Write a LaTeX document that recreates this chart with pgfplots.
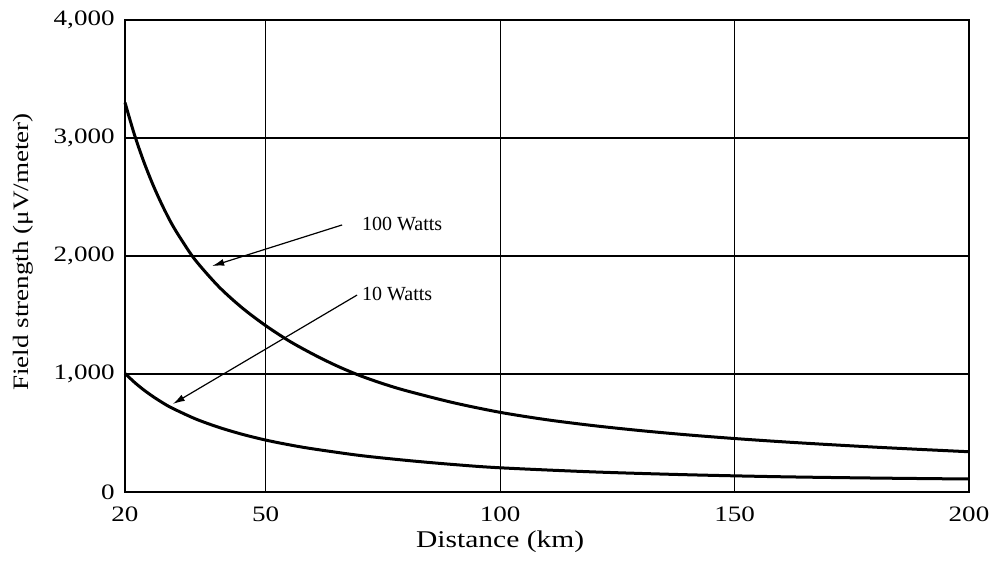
\documentclass[border=0pt]{standalone}
\usepackage{fontspec}
\setmainfont{Liberation Serif}
\usepackage{graphicx}
\usepackage{pgfplots}
\pgfplotsset{compat=1.18}
\usetikzlibrary{arrows.meta}
\newcommand{\wide}[1]{\scalebox{1.23}[1]{#1}}
\begin{document}
\begin{tikzpicture}
\begin{axis}[
  scale only axis, width=422pt, height=236pt,
  xmin=20, xmax=200, ymin=0, ymax=4000,
  xtick={20,50,100,150,200},
  xticklabels={\wide{20},\wide{50},\wide{100},\wide{150},\wide{200}},
  ytick={0,1000,2000,3000,4000},
  yticklabels={\wide{0},{\wide{1,000}},{\wide{2,000}},{\wide{3,000}},{\wide{4,000}}},
  tick style={draw=none},
  grid=major, grid style={black, line width=0.6pt},
  axis line style={black, line width=0.8pt},
  ticklabel style={font=\fontsize{11}{13}\selectfont, inner sep=0pt},
  xticklabel style={yshift=-7pt},
  yticklabel style={xshift=-5pt},
  clip=false,
]
\addplot[black, line width=1.5pt, smooth] coordinates {
(20,3300) (22,3030) (24,2800) (26,2600) (28,2425) (30,2270) (32,2140) (35,1965)
(40,1740) (45,1560) (50,1410) (55,1280) (60,1170) (65,1072) (70,988) (75,918)
(80,858) (90,757) (100,675) (110,612) (120,562) (130,520) (140,484) (150,453)
(160,426) (170,402) (180,380) (190,360) (200,341)};
\addplot[black, line width=1.5pt, smooth] coordinates {
(20,1005) (22,930) (24,865) (26,808) (28,757) (30,712) (35,620) (40,548) (45,489)
(50,440) (55,400) (60,366) (70,310) (80,268) (90,233) (100,205) (120,170) (140,146)
(160,129) (180,118) (200,110)};
\draw[line width=0.6pt, -{Latex[length=6pt,width=3.5pt]}] (axis cs:66.3,2263) -- (axis cs:38.6,1915);
\draw[line width=0.6pt, -{Latex[length=6pt,width=3.5pt]}] (axis cs:69.5,1669) -- (axis cs:30.2,746);
\node[anchor=west, inner sep=0pt, font=\fontsize{10}{12}\selectfont] at (axis cs:70.5,2271) {100 Watts};
\node[anchor=west, inner sep=0pt, font=\fontsize{10}{12}\selectfont] at (axis cs:70.5,1678) {10 Watts};
\node[anchor=north, inner sep=0pt, font=\fontsize{12}{14}\selectfont] at (axis cs:100,0) [yshift=-19pt] {\wide{Distance (km)}};
\path (axis cs:20,2034) ++(-51pt,0pt) node[rotate=90, inner sep=0pt, font=\fontsize{11}{13}\selectfont] {\wide{Field strength (μV/meter)}};
\end{axis}
\pgfresetboundingbox
\path (current axis.south west) ++(-62.5pt,-36pt) coordinate (bl);
\path (current axis.north east) ++(11.5pt,10pt) coordinate (tr);
\path (bl) rectangle (tr);
\end{tikzpicture}
\end{document}
